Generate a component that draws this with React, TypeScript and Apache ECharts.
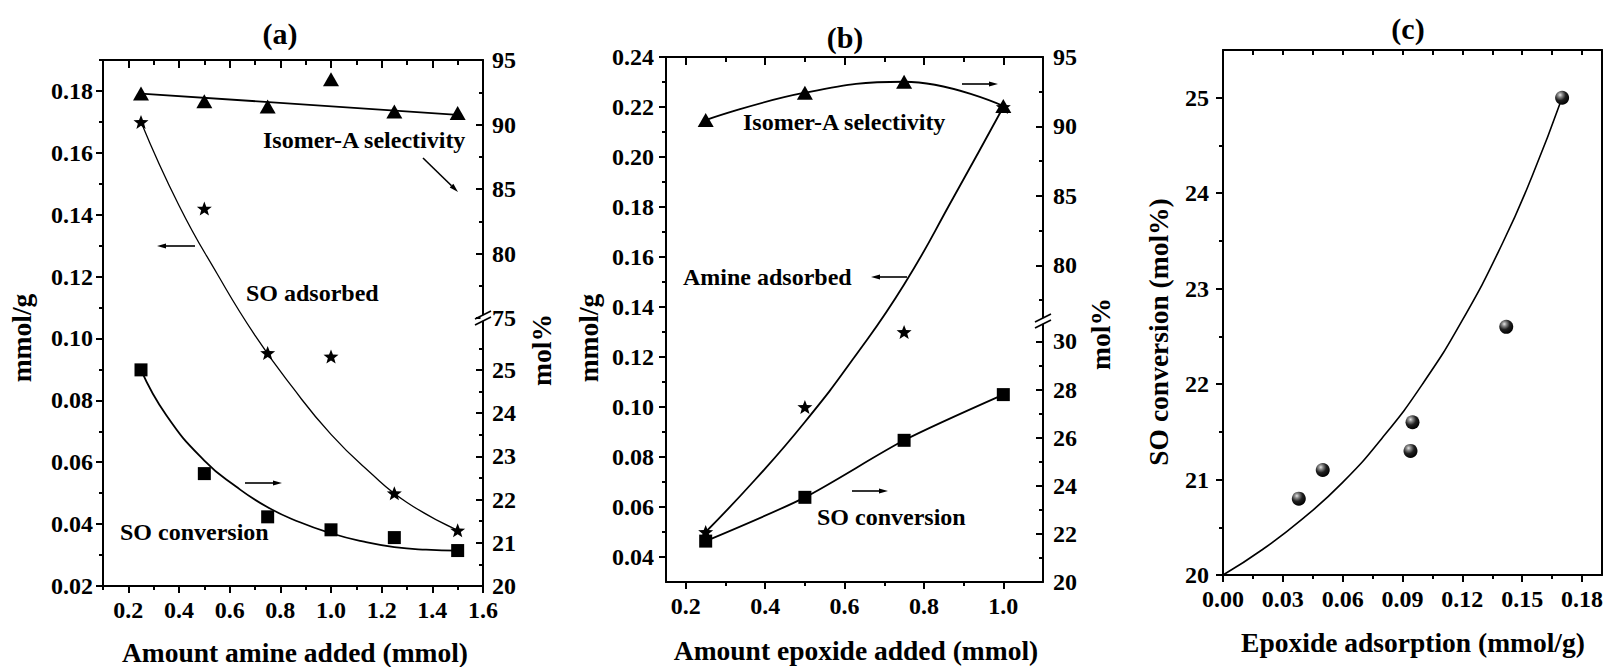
import { useEffect, useRef } from 'react';
import * as echarts from 'echarts';

// ---------- (a) amount of amine added ----------
const aAmineAdded = [0.25, 0.5, 0.75, 1.0, 1.25, 1.5]; // mmol
const aIsomerSelectivity = [92.4, 91.8, 91.4, 93.5, 91.0, 90.9]; // mol%
const aSoAdsorbed = [0.17, 0.142, 0.0953, 0.0942, 0.05, 0.038]; // mmol/g
const aSoConversion = [25.0, 22.6, 21.6, 21.3, 21.12, 20.82]; // mol%

// trend lines of panel (a)
const aSelectivityFitX = [0.25, 1.5];
const aSelectivityFitY = [92.4, 90.75];
const aAdsorbedFitX = [0.25, 0.4, 0.55, 0.7, 0.85, 1.0, 1.15, 1.3, 1.5];
const aAdsorbedFitY = [0.17, 0.143, 0.121, 0.101, 0.084, 0.069, 0.057, 0.047, 0.038];
const aConversionFitX = [0.25, 0.35, 0.5, 0.625, 0.75, 0.875, 1.0, 1.125, 1.25, 1.375, 1.5];
const aConversionFitY = [25.0, 23.95, 22.9, 22.3, 21.82, 21.48, 21.22, 21.03, 20.9, 20.84, 20.82];

// ---------- (b) amount of epoxide added ----------
const bEpoxideAdded = [0.25, 0.5, 0.75, 1.0]; // mmol
const bIsomerSelectivity = [90.46, 92.43, 93.22, 91.47]; // mol%
const bAmineAdsorbed = [0.05, 0.1, 0.13, 0.22]; // mmol/g
const bSoConversion = [21.7, 23.52, 25.89, 27.79]; // mol%

const bAdsorbedFitX = [0.25, 0.375, 0.5, 0.625, 0.75, 0.875, 1.0];
const bAdsorbedFitY = [0.05, 0.071, 0.094, 0.12, 0.149, 0.184, 0.22];

// ---------- (c) conversion vs epoxide adsorption ----------
const cEpoxideAdsorption = [0.038, 0.05, 0.094, 0.095, 0.142, 0.17]; // mmol/g
const cSoConversion = [20.8, 21.1, 21.3, 21.6, 22.6, 25.0]; // mol%
const cFitX = [0, 0.02, 0.04, 0.06, 0.08, 0.1, 0.12, 0.14, 0.155, 0.17];
const cFitY = [20.0, 20.27, 20.59, 20.97, 21.44, 22.0, 22.67, 23.47, 24.18, 25.0];

// ---------- tick values ----------
const aXMajor = [0.2, 0.4, 0.6, 0.8, 1.0, 1.2, 1.4, 1.6];
const aXMinor = [0.1, 0.3, 0.5, 0.7, 0.9, 1.1, 1.3, 1.5];
const aLeftMajor = [0.02, 0.04, 0.06, 0.08, 0.1, 0.12, 0.14, 0.16, 0.18];
const aLeftMinor = [0.03, 0.05, 0.07, 0.09, 0.11, 0.13, 0.15, 0.17, 0.19];
const aRightUpMajor = [75, 80, 85, 90, 95];
const aRightUpMinor = [77.5, 82.5, 87.5, 92.5];
const aRightLowMajor = [20, 21, 22, 23, 24, 25];
const aRightLowMinor = [20.5, 21.5, 22.5, 23.5, 24.5, 25.5];

const bXMajor = [0.2, 0.4, 0.6, 0.8, 1.0];
const bXMinor = [0.3, 0.5, 0.7, 0.9];
const bLeftMajor = [0.04, 0.06, 0.08, 0.1, 0.12, 0.14, 0.16, 0.18, 0.2, 0.22, 0.24];
const bLeftMinor = [0.05, 0.07, 0.09, 0.11, 0.13, 0.15, 0.17, 0.19, 0.21, 0.23];
const bRightUpMajor = [80, 85, 90, 95];
const bRightUpMinor = [77.5, 82.5, 87.5, 92.5];
const bRightLowMajor = [20, 22, 24, 26, 28, 30];
const bRightLowMinor = [21, 23, 25, 27, 29];

const cXMajor = [0, 0.03, 0.06, 0.09, 0.12, 0.15, 0.18];
const cXMinor = [0.015, 0.045, 0.075, 0.105, 0.135, 0.165];
const cYMajor = [20, 21, 22, 23, 24, 25];
const cYMinor = [20.5, 21.5, 22.5, 23.5, 24.5];

// ---------- layout ----------
const FONT = '"Liberation Serif", "Times New Roman", serif';
const INK = '#000';
const PA = { left: 103, right: 483, top: 60, bottom: 586, brk: 318 };
const PB = { left: 666, right: 1043, top: 57, bottom: 582, brk: 321 };
const PC = { left: 1223, right: 1602, top: 50, bottom: 575 };

const aX: [number, number] = [0.1, 1.6];
const aLeft: [number, number] = [0.02, 0.19];
const aRightUp: [number, number] = [75, 95];
const aRightLow: [number, number] = [20, 26.2];
const bX: [number, number] = [0.15, 1.1];
const bLeft: [number, number] = [0.03, 0.24];
const bRightUp: [number, number] = [76, 95];
const bRightLow: [number, number] = [20, 30.85];
const cX: [number, number] = [0, 0.19];
const cY: [number, number] = [20, 25.5];

const STAR =
  'path://M50,0 L62.34,33.01 L97.55,34.55 L69.97,56.49 L79.39,90.45 L50,71 L20.61,90.45 L30.03,56.49 L2.45,34.55 L37.66,33.01 Z';

const f0 = (v: number) => String(v);
const f1 = (v: number) => v.toFixed(1);
const f2 = (v: number) => v.toFixed(2);

type AxisOpts = {
  line?: boolean;
  inside?: boolean;
  len?: number;
  fmt?: (v: number) => string;
  margin?: number;
  hidden?: boolean;
};

function axis(gridIndex: number, position: string, range: [number, number], ticks: number[], o: AxisOpts = {}) {
  return {
    type: 'value',
    gridIndex,
    position,
    min: range[0],
    max: range[1],
    show: !o.hidden,
    axisLine: { show: !!o.line, onZero: false, lineStyle: { color: INK, width: 2 } },
    axisTick: {
      show: ticks.length > 0,
      inside: !!o.inside,
      length: o.len ?? 7,
      customValues: ticks.length ? ticks : undefined,
      lineStyle: { color: INK, width: 2 },
    },
    axisLabel: o.fmt
      ? {
          show: true,
          customValues: ticks,
          formatter: o.fmt,
          margin: o.margin ?? 10,
          color: INK,
          fontFamily: FONT,
          fontWeight: 'bold',
          fontSize: 24,
        }
      : { show: false },
    splitLine: { show: false },
    minorTick: { show: false },
  };
}

const pairs = (xs: number[], ys: number[]) => xs.map((x, i) => [x, ys[i]]);

function fitLine(xi: number, yi: number, xs: number[], ys: number[], width: number, smooth: boolean | number) {
  return {
    type: 'line',
    xAxisIndex: xi,
    yAxisIndex: yi,
    data: pairs(xs, ys),
    symbol: 'none',
    showSymbol: false,
    smooth,
    silent: true,
    lineStyle: { color: INK, width },
    z: 2,
  };
}

function markers(xi: number, yi: number, xs: number[], ys: number[], symbol: string, size: number | number[], color: unknown = INK) {
  return {
    type: 'scatter',
    xAxisIndex: xi,
    yAxisIndex: yi,
    data: pairs(xs, ys),
    symbol,
    symbolSize: size,
    silent: true,
    itemStyle: { color, opacity: 1 },
    z: 3,
  };
}

function label(x: number, y: number, text: string, size: number, align = 'left', rotate = false) {
  return {
    type: 'text',
    x,
    y,
    rotation: rotate ? Math.PI / 2 : 0,
    z: 100,
    style: {
      text,
      fill: INK,
      fontFamily: FONT,
      fontWeight: 'bold',
      fontSize: size,
      align,
      verticalAlign: 'middle',
    },
  };
}

function arrow(x1: number, y1: number, x2: number, y2: number) {
  const dx = x2 - x1;
  const dy = y2 - y1;
  const len = Math.hypot(dx, dy);
  const ux = dx / len;
  const uy = dy / len;
  const head = 9;
  const half = 2.6;
  const bx = x2 - ux * head;
  const by = y2 - uy * head;
  return [
    { type: 'line', z: 100, shape: { x1, y1, x2: bx, y2: by }, style: { stroke: INK, lineWidth: 1.6 } },
    {
      type: 'polygon',
      z: 100,
      shape: {
        points: [
          [x2, y2],
          [bx - uy * half, by + ux * half],
          [bx + uy * half, by - ux * half],
        ],
      },
      style: { fill: INK },
    },
  ];
}

function axisBreak(cx: number, cy: number) {
  return [
    { type: 'rect', z: 99, shape: { x: cx - 2.5, y: cy - 2.8, width: 5, height: 5.6 }, style: { fill: '#fff' } },
    { type: 'line', z: 100, shape: { x1: cx - 8, y1: cy + 1, x2: cx + 8, y2: cy - 7 }, style: { stroke: INK, lineWidth: 1.6 } },
    { type: 'line', z: 100, shape: { x1: cx - 8, y1: cy + 7, x2: cx + 8, y2: cy - 1 }, style: { stroke: INK, lineWidth: 1.6 } },
  ];
}

const gridOf = (left: number, top: number, right: number, bottom: number) => ({
  left,
  top,
  width: right - left,
  height: bottom - top,
  outerBoundsMode: 'none',
  containLabel: false,
});

export default function App() {
  const ref = useRef<HTMLDivElement>(null);

  useEffect(() => {
    if (!ref.current) return;
    const chart = echarts.init(ref.current, undefined, { renderer: 'svg' });

    const sphere = new echarts.graphic.RadialGradient(0.36, 0.3, 0.72, [
      { offset: 0, color: '#e6e6e6' },
      { offset: 0.22, color: '#8a8a8a' },
      { offset: 0.55, color: '#202020' },
      { offset: 1, color: '#000' },
    ]);

    const option = {
      animation: false,
      backgroundColor: '#fff',
      grid: [
        gridOf(PA.left, PA.top, PA.right, PA.bottom), // 0 (a) left scale
        gridOf(PA.left, PA.top, PA.right, PA.brk), // 1 (a) right, upper segment
        gridOf(PA.left, PA.brk, PA.right, PA.bottom), // 2 (a) right, lower segment
        gridOf(PB.left, PB.top, PB.right, PB.bottom), // 3 (b) left scale
        gridOf(PB.left, PB.top, PB.right, PB.brk), // 4 (b) right, upper segment
        gridOf(PB.left, PB.brk, PB.right, PB.bottom), // 5 (b) right, lower segment
        gridOf(PC.left, PC.top, PC.right, PC.bottom), // 6 (c)
      ],
      xAxis: [
        axis(0, 'bottom', aX, aXMajor, { line: true, fmt: f1, margin: 12 }),
        axis(0, 'bottom', aX, aXMinor, { len: 4 }),
        axis(0, 'top', aX, aXMajor, { line: true, inside: true, len: 8 }),
        axis(0, 'top', aX, aXMinor, { inside: true, len: 5 }),
        axis(1, 'bottom', aX, [], { hidden: true }),
        axis(2, 'bottom', aX, [], { hidden: true }),
        axis(3, 'bottom', bX, bXMajor, { line: true, fmt: f1, margin: 12 }),
        axis(3, 'bottom', bX, bXMinor, { len: 4 }),
        axis(3, 'top', bX, bXMajor, { line: true, inside: true, len: 8 }),
        axis(3, 'top', bX, bXMinor, { inside: true, len: 5 }),
        axis(4, 'bottom', bX, [], { hidden: true }),
        axis(5, 'bottom', bX, [], { hidden: true }),
        axis(6, 'bottom', cX, cXMajor, { line: true, fmt: f2, margin: 12 }),
        axis(6, 'bottom', cX, cXMinor, { len: 4 }),
        axis(6, 'top', cX, [...cXMinor, ...cXMajor.slice(1)], { line: true, inside: true, len: 5 }),
      ],
      yAxis: [
        axis(0, 'left', aLeft, aLeftMajor, { line: true, fmt: f2, margin: 10 }),
        axis(0, 'left', aLeft, aLeftMinor, { len: 4 }),
        axis(1, 'right', aRightUp, aRightUpMajor, { line: true, inside: true, fmt: f0, margin: 9 }),
        axis(1, 'right', aRightUp, aRightUpMinor, { inside: true, len: 4 }),
        axis(2, 'right', aRightLow, aRightLowMajor, { line: true, inside: true, fmt: f0, margin: 9 }),
        axis(2, 'right', aRightLow, aRightLowMinor, { inside: true, len: 4 }),
        axis(3, 'left', bLeft, bLeftMajor, { line: true, fmt: f2, margin: 12 }),
        axis(3, 'left', bLeft, bLeftMinor, { len: 4 }),
        axis(4, 'right', bRightUp, bRightUpMajor, { line: true, inside: true, fmt: f0, margin: 10 }),
        axis(4, 'right', bRightUp, bRightUpMinor, { inside: true, len: 4 }),
        axis(5, 'right', bRightLow, bRightLowMajor, { line: true, inside: true, fmt: f0, margin: 10 }),
        axis(5, 'right', bRightLow, bRightLowMinor, { inside: true, len: 4 }),
        axis(6, 'left', cY, cYMajor, { line: true, fmt: f0, margin: 14 }),
        axis(6, 'left', cY, cYMinor, { len: 4 }),
        axis(6, 'right', cY, [], { line: true }),
      ],
      series: [
        // (a)
        fitLine(4, 2, aSelectivityFitX, aSelectivityFitY, 1.8, false),
        markers(4, 2, aAmineAdded, aIsomerSelectivity, 'triangle', [16, 14]),
        fitLine(0, 0, aAdsorbedFitX, aAdsorbedFitY, 1.3, true),
        markers(0, 0, aAmineAdded, aSoAdsorbed, STAR, [15, 14]),
        fitLine(5, 4, aConversionFitX, aConversionFitY, 1.8, true),
        markers(5, 4, aAmineAdded, aSoConversion, 'rect', 13),
        // (b)
        {
          ...fitLine(10, 8, bEpoxideAdded, bIsomerSelectivity, 1.8, 0.45),
          symbol: 'triangle',
          showSymbol: true,
          symbolSize: [16, 14],
          itemStyle: { color: INK },
          z: 3,
        },
        fitLine(6, 6, bAdsorbedFitX, bAdsorbedFitY, 1.8, true),
        markers(6, 6, bEpoxideAdded, bAmineAdsorbed, STAR, [15, 14]),
        {
          ...fitLine(11, 10, bEpoxideAdded, bSoConversion, 1.8, 0.25),
          symbol: 'rect',
          showSymbol: true,
          symbolSize: 13,
          itemStyle: { color: INK },
          z: 3,
        },
        // (c)
        fitLine(12, 12, cFitX, cFitY, 1.6, true),
        markers(12, 12, cEpoxideAdsorption, cSoConversion, 'circle', 14, sphere),
      ],
      graphic: [
        // panel titles
        label(280, 33, '(a)', 30, 'center'),
        label(845, 37, '(b)', 30, 'center'),
        label(1408, 28, '(c)', 30, 'center'),
        // axis titles
        label(295, 652, 'Amount amine added (mmol)', 27.5, 'center'),
        label(856, 650, 'Amount epoxide added (mmol)', 27.5, 'center'),
        label(1413, 642, 'Epoxide adsorption (mmol/g)', 27.5, 'center'),
        label(21, 338, 'mmol/g', 27.5, 'center', true),
        label(541, 350, 'mol%', 27.5, 'center', true),
        label(588, 338, 'mmol/g', 27.5, 'center', true),
        label(1100, 334, 'mol%', 27.5, 'center', true),
        label(1158, 332, 'SO conversion (mol%)', 27.5, 'center', true),
        // (a) annotations
        label(263, 140, 'Isomer-A selectivity', 24),
        label(246, 293, 'SO adsorbed', 24),
        label(120, 532, 'SO conversion', 24),
        ...arrow(423, 158, 458, 192),
        ...arrow(195, 246, 157, 246),
        ...arrow(245, 483, 282, 483),
        // (b) annotations
        label(743, 122, 'Isomer-A selectivity', 24),
        label(683, 277, 'Amine adsorbed', 24),
        label(817, 517, 'SO conversion', 24),
        ...arrow(962, 84, 998, 84),
        ...arrow(907, 277, 871, 277),
        ...arrow(852, 491, 888, 491),
        // broken right-hand axes
        ...axisBreak(PA.right, PA.brk),
        ...axisBreak(PB.right, PB.brk),
      ],
    };

    chart.setOption(option as echarts.EChartsOption);
    return () => chart.dispose();
  }, []);

  return <div ref={ref} style={{ position: 'fixed', left: 0, top: 0, width: 1606, height: 667 }} />;
}
